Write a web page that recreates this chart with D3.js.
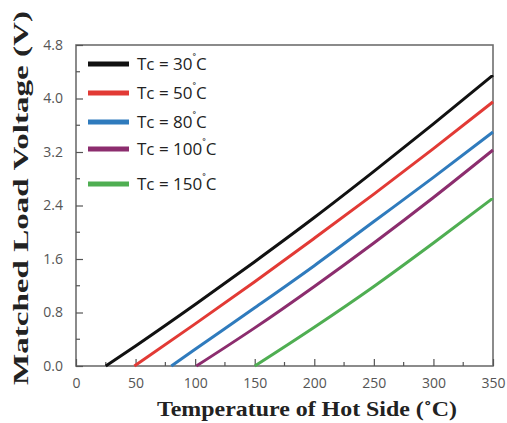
<!DOCTYPE html>
<html>
<head>
<meta charset="utf-8">
<script src="https://cdn.jsdelivr.net/npm/d3@7"></script>
<style>
  html, body { margin: 0; padding: 0; background: #fff; }
  svg { display: block; }
</style>
</head>
<body>
<svg id="chart" width="507" height="423"></svg>
<script>
// Cold-side temperatures of each curve (legend order)
const coldTemps = [30, 50, 80, 100, 150];
const seriesColors = ["#111111", "#e23a35", "#2f7bbd", "#8c2d6e", "#4fae52"];

// Hot-side temperature (°C) and matched load voltage (V) along each curve
const hotT30  = [25, 50, 100, 150, 200, 250, 300, 350];
const volt30  = [0, 0.30, 0.92, 1.56, 2.22, 2.91, 3.62, 4.35];
const hotT50  = [49, 100, 150, 200, 250, 300, 350];
const volt50  = [0, 0.63, 1.26, 1.91, 2.57, 3.25, 3.95];
const hotT80  = [80, 100, 150, 200, 250, 300, 350];
const volt80  = [0, 0.25, 0.87, 1.50, 2.16, 2.82, 3.50];
const hotT100 = [101, 150, 200, 250, 300, 350];
const volt100 = [0, 0.57, 1.19, 1.84, 2.52, 3.23];
const hotT150 = [150, 200, 250, 300, 350];
const volt150 = [0, 0.58, 1.19, 1.84, 2.51];

const xTicks = [0, 50, 100, 150, 200, 250, 300, 350];
const yTicks = [0.0, 0.8, 1.6, 2.4, 3.2, 4.0, 4.8];

const series = [
  { tc: coldTemps[0], t: hotT30,  v: volt30  },
  { tc: coldTemps[1], t: hotT50,  v: volt50  },
  { tc: coldTemps[2], t: hotT80,  v: volt80  },
  { tc: coldTemps[3], t: hotT100, v: volt100 },
  { tc: coldTemps[4], t: hotT150, v: volt150 }
];

const svg = d3.select("#chart");
const plot = { left: 76, right: 493, top: 45, bottom: 366 };

const x = d3.scaleLinear().domain([0, 350]).range([plot.left, plot.right]);
const y = d3.scaleLinear().domain([0, 4.8]).range([plot.bottom, plot.top]);

// Frame
svg.append("rect")
  .attr("x", plot.left).attr("y", plot.top)
  .attr("width", plot.right - plot.left).attr("height", plot.bottom - plot.top)
  .attr("fill", "none").attr("stroke", "#6e6e6e").attr("stroke-width", 1.6);

const tickFont = "'Open Sans', 'Liberation Sans', sans-serif";

// Bottom axis: inward ticks, minor ticks halfway between labels
const xMinor = d3.range(25, 350, 50);
const xAxis = d3.axisBottom(x).tickValues(xTicks).tickSizeInner(-7).tickSizeOuter(0).tickPadding(12)
  .tickFormat(d3.format("d"));
const gx = svg.append("g").attr("transform", `translate(0,${plot.bottom})`).call(xAxis);
gx.select(".domain").remove();
gx.selectAll(".tick line").attr("stroke", "#555").attr("stroke-width", 1.2);
gx.selectAll(".tick text").attr("font-family", tickFont).attr("font-size", 14).attr("fill", "#555");
gx.selectAll(".minor").data(xMinor).join("line")
  .attr("x1", d => x(d)).attr("x2", d => x(d)).attr("y1", 0).attr("y2", -4)
  .attr("stroke", "#555").attr("stroke-width", 1.2);

// Left axis
const yMinor = d3.range(0.4, 4.8, 0.8);
const yAxis = d3.axisLeft(y).tickValues(yTicks).tickSizeInner(-7).tickSizeOuter(0).tickPadding(13)
  .tickFormat(d3.format(".1f"));
const gy = svg.append("g").attr("transform", `translate(${plot.left},0)`).call(yAxis);
gy.select(".domain").remove();
gy.selectAll(".tick line").attr("stroke", "#555").attr("stroke-width", 1.2);
gy.selectAll(".tick text").attr("font-family", tickFont).attr("font-size", 14).attr("fill", "#555");
gy.selectAll(".minor").data(yMinor).join("line")
  .attr("x1", 0).attr("x2", 4).attr("y1", d => y(d)).attr("y2", d => y(d))
  .attr("stroke", "#555").attr("stroke-width", 1.2);

// Curves
const line = d3.line().x(d => x(d[0])).y(d => y(d[1])).curve(d3.curveMonotoneX);
svg.append("g").selectAll("path").data(series).join("path")
  .attr("d", s => line(s.t.map((t, i) => [t, s.v[i]])))
  .attr("fill", "none")
  .attr("stroke", (s, i) => seriesColors[i])
  .attr("stroke-width", 3);

// Legend
const legendY = [64, 93, 122, 149, 184];
const legend = svg.append("g");
series.forEach((s, i) => {
  legend.append("line")
    .attr("x1", 88).attr("x2", 129).attr("y1", legendY[i]).attr("y2", legendY[i])
    .attr("stroke", seriesColors[i]).attr("stroke-width", 5);
  const txt = legend.append("text")
    .attr("x", 137).attr("y", legendY[i] + 6)
    .attr("font-family", tickFont).attr("font-size", 17).attr("fill", "#222");
  txt.append("tspan").text(`Tc = ${s.tc}`);
  txt.append("tspan").attr("dy", -6).attr("font-size", 12).text("˚");
  txt.append("tspan").attr("dy", 6).text("C");
});

// Axis titles
const titleFont = "'Liberation Serif', 'DejaVu Serif', serif";
svg.append("text")
  .attr("x", 307).attr("y", 416)
  .attr("text-anchor", "middle")
  .attr("font-family", titleFont).attr("font-weight", "bold").attr("font-size", 22)
  .attr("fill", "#222")
  .attr("textLength", 300).attr("lengthAdjust", "spacingAndGlyphs")
  .text("Temperature of Hot Side (˚C)");

svg.append("text")
  .attr("transform", "translate(28,198) rotate(-90)")
  .attr("text-anchor", "middle")
  .attr("font-family", titleFont).attr("font-weight", "bold").attr("font-size", 22)
  .attr("fill", "#222")
  .attr("textLength", 374).attr("lengthAdjust", "spacingAndGlyphs")
  .text("Matched Load Voltage (V)");
</script>
</body>
</html>
